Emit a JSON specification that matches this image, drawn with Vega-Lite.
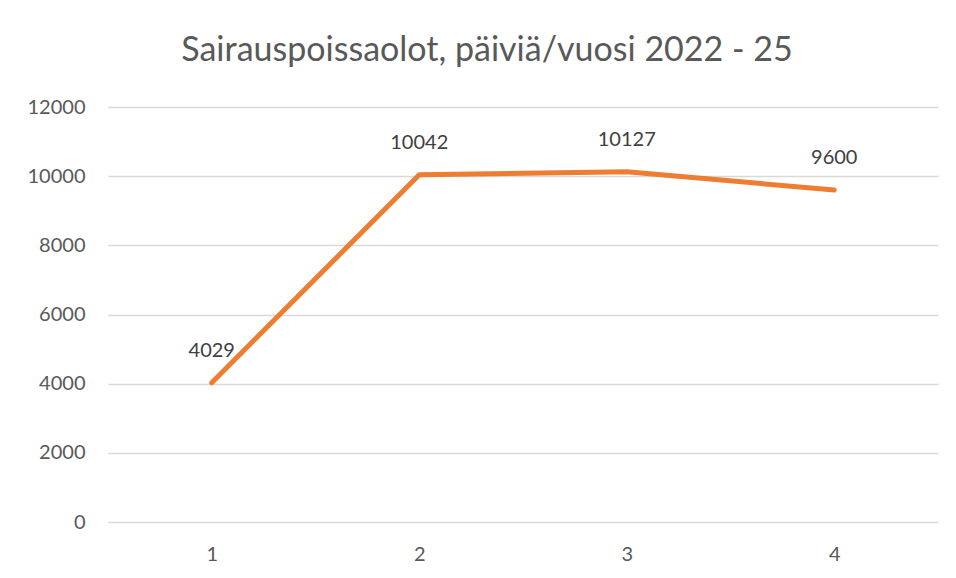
{
  "$schema": "https://vega.github.io/schema/vega-lite/v6.json",
  "width": 830,
  "height": 415,
  "autosize": {"type": "none"},
  "padding": {"left": 108, "top": 107, "right": 18, "bottom": 56},
  "background": "white",
  "title": {
    "text": "Sairauspoissaolot, päiviä/vuosi 2022 - 25",
    "font": "Lato",
    "fontSize": 34,
    "fontWeight": "normal",
    "color": "#595959",
    "anchor": "middle",
    "frame": "group",
    "dx": -36,
    "offset": 29
  },
  "data": {
    "values": [
      {"vuosi": "1", "paivat": 4029},
      {"vuosi": "2", "paivat": 10042},
      {"vuosi": "3", "paivat": 10127},
      {"vuosi": "4", "paivat": 9600}
    ]
  },
  "encoding": {
    "x": {
      "field": "vuosi",
      "type": "ordinal",
      "scale": {"type": "point", "padding": 0.5},
      "axis": {
        "title": null,
        "labelAngle": 0,
        "domain": false,
        "ticks": false,
        "grid": false,
        "labelFont": "Lato",
        "labelFontSize": 20,
        "labelColor": "#595959",
        "labelPadding": 22
      }
    },
    "y": {
      "field": "paivat",
      "type": "quantitative",
      "scale": {"domain": [0, 12000], "nice": false},
      "axis": {
        "title": null,
        "values": [0, 2000, 4000, 6000, 8000, 10000, 12000],
        "format": "d",
        "domain": false,
        "ticks": false,
        "grid": true,
        "gridColor": "#d9d9d9",
        "gridWidth": 1.5,
        "labelFont": "Lato",
        "labelFontSize": 20,
        "labelColor": "#595959",
        "labelPadding": 23
      }
    }
  },
  "layer": [
    {
      "mark": {"type": "line", "color": "#ED7D31", "strokeWidth": 5, "strokeCap": "round", "strokeJoin": "round"}
    },
    {
      "mark": {"type": "text", "font": "Lato", "fontSize": 20, "color": "#404040", "baseline": "middle", "dy": -32},
      "encoding": {"text": {"field": "paivat", "type": "quantitative", "format": "d"}}
    }
  ],
  "config": {"view": {"stroke": null}}
}
